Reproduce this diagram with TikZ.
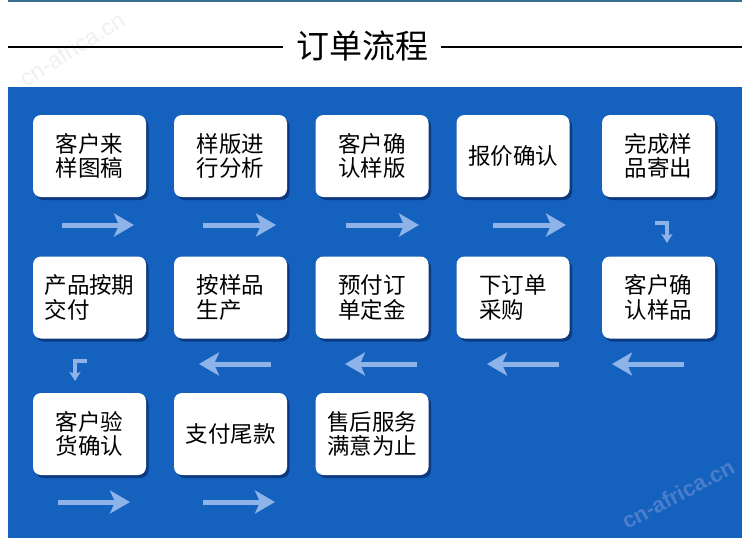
\documentclass[tikz,border=0pt]{standalone}
\usepackage{fontspec}
\newfontfamily\cjk{Noto Sans CJK SC}
\newfontfamily\wmfont{Liberation Sans}
\usetikzlibrary{arrows.meta}
\definecolor{bgblue}{HTML}{1561BE}
\definecolor{shc}{HTML}{0C3A82}
\definecolor{arrc}{HTML}{8DB3E8}
\definecolor{topc}{HTML}{3A6E8F}
\definecolor{wmblue}{HTML}{4A7ECC}
\tikzset{
  stepbox/.style={fill=white, rounded corners=8pt, minimum width=113pt, minimum height=82pt,
    inner sep=0pt, align=left, font=\cjk\fontsize{22.5}{24.5}\selectfont,
    preaction={fill=shc, transform canvas={xshift=2.5pt,yshift=-3pt}}},
  flowarrow/.style={draw=arrc, line width=5pt, -{Stealth[length=20pt,width=23pt,inset=5pt]}},
  bentarrow/.style={draw=arrc, line width=3.5pt, -{Stealth[length=9pt,width=11pt,inset=2pt]}},
}
\begin{document}
\begin{tikzpicture}[x=1pt,y=-1pt]
\useasboundingbox (0,0) rectangle (750,542);
\fill[white] (0,0) rectangle (750,542);
% top line
\draw[topc, line width=1.5pt] (8,0.75) -- (742,0.75);
% faint watermark top-left
\node[rotate=32, text=black!6, font=\wmfont\fontsize{23}{23}\selectfont] (wm1) at (72,49) {cn-africa.cn};
% title
\node[font=\cjk\fontsize{33}{33}\selectfont, inner xsep=13pt] (title) at (362,46) {订单流程};
\coordinate (tl) at (8,47);
\coordinate (tr) at (742,47);
\draw[line width=2.5pt] (tl) -- (tl -| title.west);
\draw[line width=2.5pt] (title.east |- tr) -- (tr);
% blue panel
\fill[bgblue] (8,87) rectangle (742,538);
% boxes row 1
\node[stepbox] (b1) at (89.5,156) {客户来\\样图稿};
\node[stepbox] (b2) at (230.5,156) {样版进\\行分析};
\node[stepbox] (b3) at (372,156) {客户确\\认样版};
\node[stepbox] (b4) at (513,156) {报价确认};
\node[stepbox] (b5) at (658.5,156) {完成样\\品寄出};
% row 2
\node[stepbox] (b6) at (89.5,297.5) {产品按期\\交付};
\node[stepbox] (b7) at (230.5,297.5) {按样品\\生产};
\node[stepbox] (b8) at (372,297.5) {预付订\\单定金};
\node[stepbox] (b9) at (513,297.5) {下订单\\采购};
\node[stepbox] (b10) at (658.5,297.5) {客户确\\认样品};
% row 3
\node[stepbox] (b11) at (89.5,434) {客户验\\货确认};
\node[stepbox] (b12) at (230.5,434) {支付尾款};
\node[stepbox] (b13) at (372,434) {售后服务\\满意为止};
% arrow coordinates row 1
\coordinate (a1s) at (62,225);  \coordinate (a1e) at (134,225);
\coordinate (a2s) at (203,225); \coordinate (a2e) at (276,225);
\coordinate (a3s) at (346,225); \coordinate (a3e) at (419,225);
\coordinate (a4s) at (493,225); \coordinate (a4e) at (566,225);
\draw[flowarrow] (a1s) -- (a1e);
\draw[flowarrow] (a2s) -- (a2e);
\draw[flowarrow] (a3s) -- (a3e);
\draw[flowarrow] (a4s) -- (a4e);
\coordinate (c1s) at (655,223); \coordinate (c1m) at (667,223); \coordinate (c1e) at (667,243);
\draw[bentarrow] (c1s) -- (c1m) -- (c1e);
% row 2 arrows (leftwards)
\coordinate (d5s) at (684,364); \coordinate (d5e) at (612,364);
\coordinate (d4s) at (559,364); \coordinate (d4e) at (487,364);
\coordinate (d3s) at (417,364); \coordinate (d3e) at (345,364);
\coordinate (d2s) at (271,364); \coordinate (d2e) at (199,364);
\draw[flowarrow] (d5s) -- (d5e);
\draw[flowarrow] (d4s) -- (d4e);
\draw[flowarrow] (d3s) -- (d3e);
\draw[flowarrow] (d2s) -- (d2e);
\coordinate (c2s) at (87,361); \coordinate (c2m) at (75,361); \coordinate (c2e) at (75,381);
\draw[bentarrow] (c2s) -- (c2m) -- (c2e);
% row 3 arrows
\coordinate (e1s) at (58,502);  \coordinate (e1e) at (130,502);
\coordinate (e2s) at (203,502); \coordinate (e2e) at (275,502);
\draw[flowarrow] (e1s) -- (e1e);
\draw[flowarrow] (e2s) -- (e2e);
% watermark bottom-right
\node[rotate=28, text=wmblue, font=\wmfont\bfseries\fontsize{22}{22}\selectfont] (wm2) at (678,494) {cn-africa.cn};
\end{tikzpicture}
\end{document}
